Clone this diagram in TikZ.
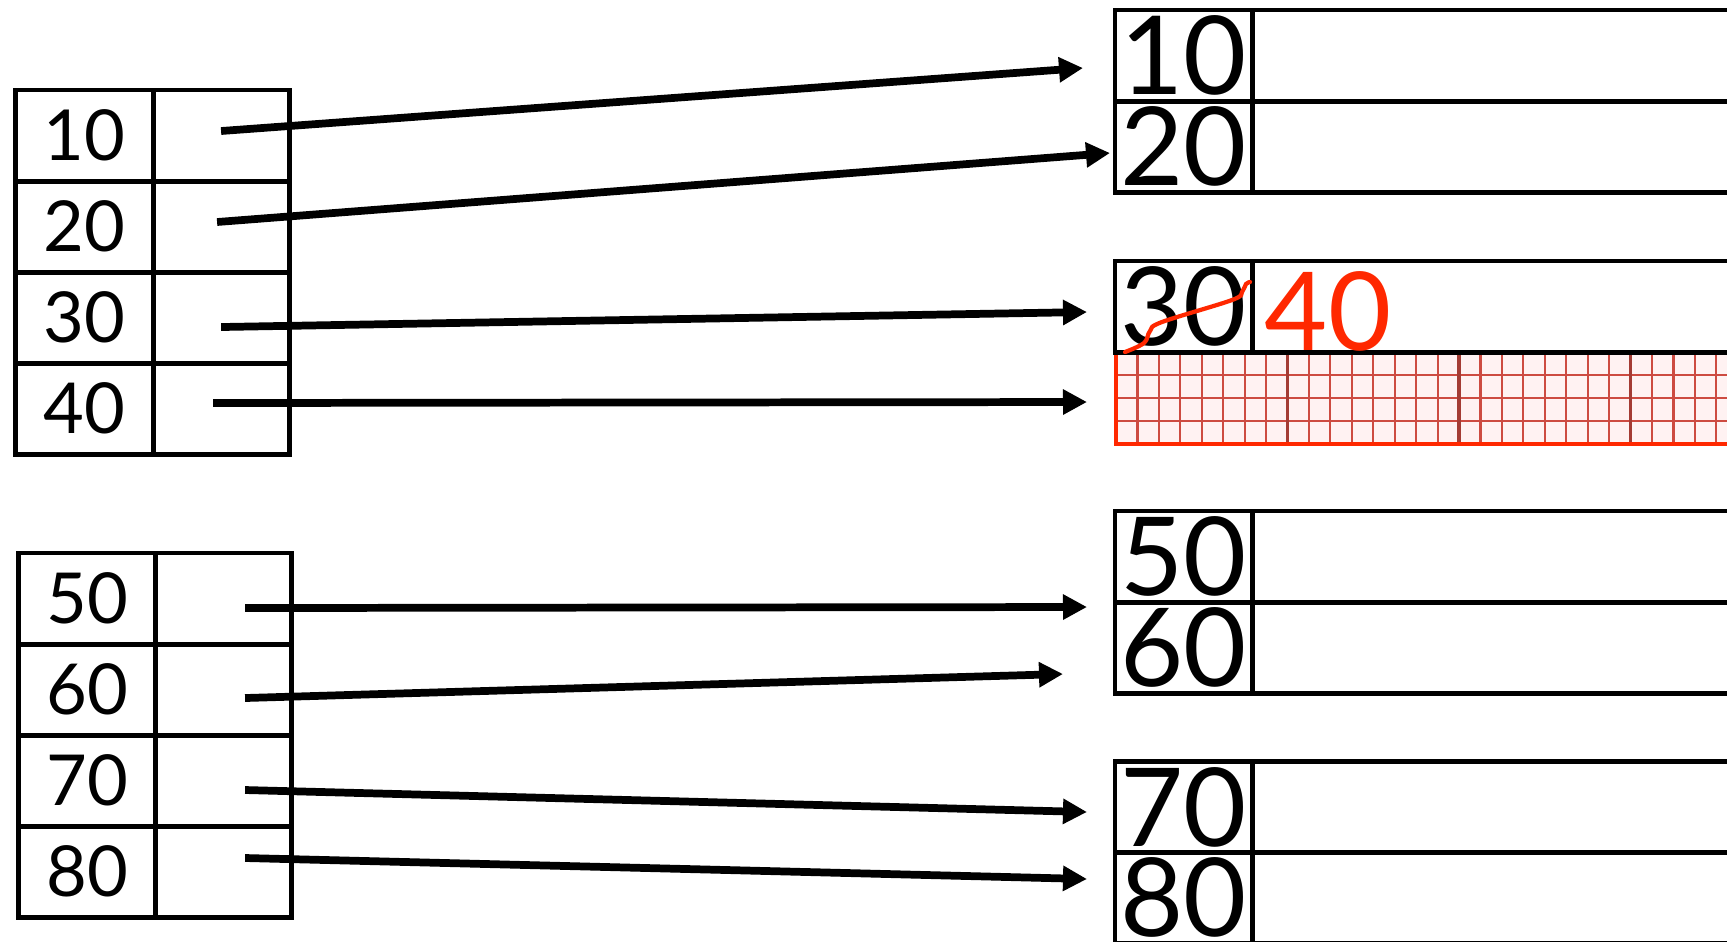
\documentclass[tikz,border=0pt]{standalone}
\usepackage{fontspec}
\setmainfont{Lato}
\usetikzlibrary{arrows.meta,positioning}

\definecolor{markred}{RGB}{255,40,0}
\definecolor{gridred}{RGB}{205,75,65}

\tikzset{
  cell/.style={draw, line width=1.4pt, inner sep=0pt, outer sep=0pt, minimum height=9.1mm},
  keycell/.style={cell, minimum width=13.7mm, font=\fontsize{20}{20}\selectfont},
  ptrcell/.style={cell, minimum width=13.6mm},
  bigkey/.style={cell, minimum width=13.7mm, font=\fontsize{31}{31}\selectfont},
  datacell/.style={cell, minimum width=48.8mm},
  ptr/.style={line width=2.2pt, -{Triangle[length=2.4mm,width=2.4mm]}},
  gridline/.style={gridred, line width=0.6pt},
}

\begin{document}
\begin{tikzpicture}[x=0.01cm, y=-0.01cm]
  \useasboundingbox (0,0) rectangle (1727,941);

  % inserted row -- red grid below the 30 row
  \fill[red!5] (1116,352) rectangle (1740,444);
  \foreach \i in {1,...,29}
    \draw[gridline] (1116+21.44*\i,352) -- (1116+21.44*\i,444);
  \foreach \j in {1,2,3}
    \draw[gridline] (1116,352+23*\j) -- (1740,352+23*\j);
  \foreach \i in {8,16,24}
    \draw[gridline, line width=1pt, gridred!80!black] (1116+21.44*\i,352) -- (1116+21.44*\i,444);
  \draw[markred, line width=1.2pt] (1116,352) rectangle (1740,444);

  % index blocks on the left
  \foreach \k [count=\i] in {10,20,30,40} {
    \node[keycell] (k\k) at (84.5,44.5+91*\i) {\k};
    \node[ptrcell, right=0pt of k\k] (p\k) {};
  }
  \foreach \k [count=\i] in {50,60,70,80} {
    \node[keycell] (k\k) at (87,507.5+91*\i) {\k};
    \node[ptrcell, right=0pt of k\k] (p\k) {};
  }

  % data blocks on the right
  \foreach \k/\yc in {10/55.5, 20/146.5, 30/306.5, 50/556.5, 60/647.5, 70/807, 80/897.5} {
    \node[bigkey] (r\k) at (1183.5,\yc) {\k};
    \node[datacell, right=0pt of r\k] (d\k) {};
  }

  % new key 40 and the struck-out 30
  \node[markred, font=\fontsize{31}{31}\selectfont] (new40) at (1328,311) {40};
  \draw[markred, line width=1.2pt, line cap=round]
    plot[smooth, tension=0.6] coordinates {
      (1125,352) (1144,343) (1150,331) (1162,322) (1232,300) (1242,292) (1246,284) (1250,282)
    };

  % arrow heads
  \coordinate (h10) at (1083,68);
  \coordinate (h20) at (1110,153);
  \coordinate (h30) at (1087,312);
  \coordinate (h40) at (1087,402);
  \coordinate (h50) at (1087,607);
  \coordinate (h60) at (1063,674);
  \coordinate (h70) at (1087,812);
  \coordinate (h80) at (1087,879);

  % pointers
  \foreach \k/\dx/\dy in {10/0/0.45, 20/-0.4/0.45, 30/0/-0.95, 40/-0.8/0.55,
                          50/2.15/-0.95, 60/2.15/-0.85, 70/2.15/-0.95, 80/2.15/1.35}
    \draw[ptr] ([xshift=\dx mm, yshift=\dy mm]p\k.center) -- (h\k);

\end{tikzpicture}
\end{document}
